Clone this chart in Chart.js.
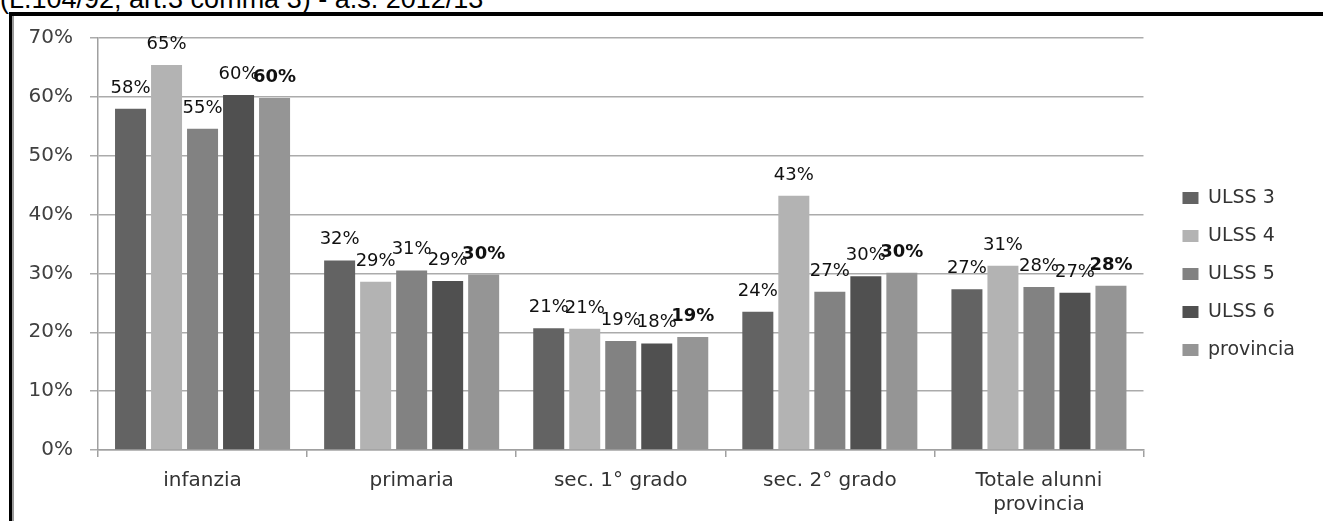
<!DOCTYPE html>
<html>
<head>
<meta charset="utf-8">
<script src="https://cdn.jsdelivr.net/npm/chart.js"></script>
<style>
  html, body { margin: 0; padding: 0; background: #fff; overflow: hidden; }
  body { width: 1323px; height: 521px; position: relative; }
  #titolo {
    position: absolute; left: 0; top: -14px;
    font: 27px "Liberation Sans", Arial, sans-serif; line-height: 26px;
    white-space: nowrap; color: #000;
  }
  #cornice {
    position: absolute; left: 9px; top: 12px; right: -10px; bottom: -10px;
    border-top: 4px solid #000; border-left: 3px solid #000;
    box-shadow: inset 2px 0 0 #9a9a9a;
  }
  #box { position: absolute; left: 14px; top: 9px; width: 1309px; height: 512px; }
</style>
</head>
<body>
<div id="titolo">(L.104/92, art.3 comma 3) - a.s. 2012/13</div>
<div id="cornice"></div>
<div id="box"><canvas id="chart"></canvas></div>
<script>
// dati
const categorie = ['infanzia', 'primaria', 'sec. 1° grado', 'sec. 2° grado', ['Totale alunni', 'provincia']];
const ulss3 = [58.0, 32.2, 20.7, 23.5, 27.3];
const ulss4 = [65.4, 28.6, 20.6, 43.2, 31.3];
const ulss5 = [54.6, 30.5, 18.5, 26.9, 27.7];
const ulss6 = [60.3, 28.7, 18.1, 29.5, 26.7];
const provincia = [59.8, 29.8, 19.2, 30.1, 27.9];
const yTicks = [0, 10, 20, 30, 40, 50, 60, 70];

// etichette sopra le barre (provincia in grassetto)
const valueLabels = {
  id: 'valueLabels',
  afterDatasetsDraw(chart) {
    const ctx = chart.ctx;
    ctx.save();
    ctx.textAlign = 'center';
    ctx.textBaseline = 'alphabetic';
    ctx.fillStyle = '#111';
    chart.data.datasets.forEach((ds, i) => {
      ctx.font = (i === 4 ? 'bold ' : '') + '18px "DejaVu Sans"';
      chart.getDatasetMeta(i).data.forEach((bar, j) => {
        ctx.fillText(Math.round(ds.data[j]) + '%', bar.x, bar.y - 16);
      });
    });
    ctx.restore();
  }
};

// sposta la legenda un po' a destra
const nudgeLegend = {
  id: 'nudgeLegend',
  afterLayout(chart) {
    const lg = chart.legend;
    lg.left += 20; lg.right += 20;
    lg.top += 2; lg.bottom += 2;
  }
};

function serie(label, data, color) {
  return { label: label, data: data, backgroundColor: color, borderWidth: 0,
           categoryPercentage: 0.861, barPercentage: 0.861 };
}

var ctx = document.getElementById('chart').getContext('2d');
var myChart = new Chart(ctx, {
  type: 'bar',
  data: {
    labels: categorie,
    datasets: [
      serie('ULSS 3', ulss3, '#636363'),
      serie('ULSS 4', ulss4, '#b3b3b3'),
      serie('ULSS 5', ulss5, '#828282'),
      serie('ULSS 6', ulss6, '#505050'),
      serie('provincia', provincia, '#959595')
    ]
  },
  options: {
    animation: false,
    responsive: true,
    maintainAspectRatio: false,
    devicePixelRatio: 1,
    layout: { padding: { top: 14, right: 38, bottom: 0, left: 0 } },
    plugins: {
      tooltip: { enabled: false },
      legend: {
        position: 'right',
        labels: {
          boxWidth: 16, boxHeight: 12, padding: 19,
          color: '#333',
          font: { family: 'DejaVu Sans', size: 19 }
        }
      }
    },
    scales: {
      x: {
        offset: true,
        grid: { offset: true, drawOnChartArea: false, color: '#a0a0a0', tickLength: 7, lineWidth: 1.5 },
        border: { color: '#a0a0a0', width: 1.5 },
        ticks: {
          color: '#333', padding: 12, maxRotation: 0,
          font: { family: 'DejaVu Sans', size: 20, lineHeight: 1.2 }
        },
        afterFit(scale) { scale.height = 71; }
      },
      y: {
        min: 0, max: 70,
        afterBuildTicks(scale) { scale.ticks = yTicks.map(v => ({ value: v })); },
        grid: { color: '#ababab', tickLength: 8, lineWidth: 1.5 },
        border: { color: '#a0a0a0', width: 1.5 },
        ticks: {
          color: '#404040', padding: 17,
          font: { family: 'DejaVu Sans', size: 20 },
          callback: v => v + '%'
        },
        afterFit(scale) { scale.width = 84; }
      }
    }
  },
  plugins: [valueLabels, nudgeLegend]
});
</script>
</body>
</html>
